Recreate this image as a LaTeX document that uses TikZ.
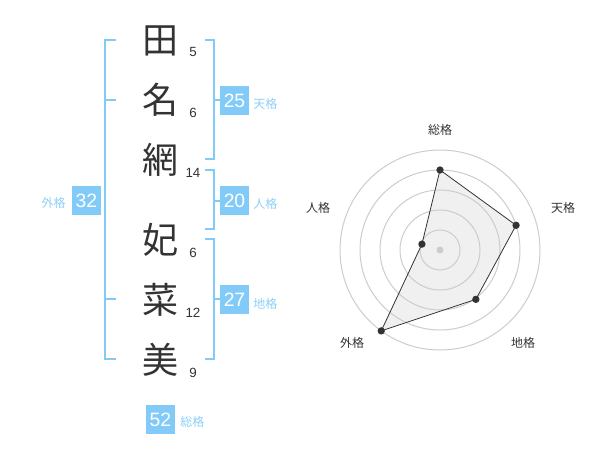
\documentclass[tikz,border=0pt]{standalone}
\usepackage{fontspec}
\usetikzlibrary{calc}
\setmainfont{Liberation Sans}
\newfontfamily\jp{Noto Sans CJK JP}
\definecolor{bluebox}{HTML}{82CBF9}
\definecolor{bluetxt}{HTML}{8CCFF7}
\definecolor{ink}{HTML}{333333}
\definecolor{ring}{HTML}{CCCCCC}
\definecolor{polyfill}{HTML}{F0F0F0}
\begin{document}
\begin{tikzpicture}[x=0.75pt,y=-0.75pt,
  kanji/.style={font=\jp\fontsize{27}{27}\selectfont,text=ink,inner sep=0pt},
  strokes/.style={font=\fontsize{10}{10}\selectfont,text=ink,inner sep=0pt},
  brk/.style={draw=bluebox,line width=1.5pt},
  scorebox/.style={fill=bluebox,text=white,font=\fontsize{14.5}{14.5}\selectfont,minimum width=21.75pt,minimum height=21.75pt,inner sep=0pt},
  kaku/.style={text=bluetxt,font=\jp\fontsize{9}{9}\selectfont,inner sep=0pt,anchor=west},
  axlabel/.style={text=ink,font=\jp\fontsize{9}{9}\selectfont,inner sep=0pt},
  dot/.style={circle,fill=ink,inner sep=0pt,minimum size=5.5pt}]
\useasboundingbox (0,0) rectangle (600,470);
% characters
\node[kanji] (c1) at (160,41) {田};
\node[kanji] (c2) at (160,100) {名};
\node[kanji] (c3) at (160,160) {網};
\node[kanji] (c4) at (160,240) {妃};
\node[kanji] (c5) at (160,300) {菜};
\node[kanji] (c6) at (160,360) {美};
% stroke counts
\node[strokes] (n1) at (193,52) {5};
\node[strokes] (n2) at (193,113) {6};
\node[strokes] (n3) at (193,173) {14};
\node[strokes] (n4) at (193,253) {6};
\node[strokes] (n5) at (193,313) {12};
\node[strokes] (n6) at (193,373) {9};
% left bracket (外格)
\draw[brk] (116,40) -- (105,40) -- (105,359) -- (116,359);
\draw[brk] (105,100) -- (116,100);
\draw[brk] (105,299) -- (116,299);
% right bracket 天格
\draw[brk] (205,40) -- (214,40) -- (214,159) -- (205,159);
\draw[brk] (214,100) -- (222,100);
% right bracket 人格
\draw[brk] (205,170) -- (214,170) -- (214,229) -- (205,229);
\draw[brk] (214,201) -- (222,201);
% right bracket 地格
\draw[brk] (205,239) -- (214,239) -- (214,359) -- (205,359);
\draw[brk] (214,299) -- (222,299);
% score boxes
\node[scorebox] (b25) at (234.5,100.5) {25};
\node[kaku] (k25) at (253,104) {天格};
\node[scorebox] (b20) at (234.5,201) {20};
\node[kaku] (k20) at (253,204) {人格};
\node[scorebox] (b27) at (234.5,300) {27};
\node[kaku] (k27) at (253,304) {地格};
\node[scorebox] (b32) at (86.5,200.5) {32};
\node[kaku,anchor=east] (k32) at (66,203) {外格};
\node[scorebox] (b52) at (160.5,419.5) {52};
\node[kaku] (k52) at (180,422) {総格};
% radar chart
\coordinate (ctr) at (440,250);
\coordinate (pS) at ($(ctr)+(-90:80)$);
\coordinate (pT) at ($(ctr)+(-18:80)$);
\coordinate (pC) at ($(ctr)+(54:61)$);
\coordinate (pG) at ($(ctr)+(126:100)$);
\coordinate (pJ) at ($(ctr)+(-162:19)$);
\fill[polyfill] (pS) -- (pT) -- (pC) -- (pG) -- (pJ) -- cycle;
\foreach \r in {20,40,60,80,100}
  \draw[ring,line width=0.75pt] (ctr) circle[radius=\r];
\fill[ring] (ctr) circle[radius=3.5];
\draw[draw=ink,line width=0.6pt] (pS) -- (pT) -- (pC) -- (pG) -- (pJ) -- cycle;
\foreach \p in {pS,pT,pC,pG,pJ}
  \node[dot] at (\p) {};
\node[axlabel] (lS) at (440,130) {総格};
\node[axlabel] (lT) at (563,208) {天格};
\node[axlabel] (lC) at (523,343) {地格};
\node[axlabel] (lG) at (352,343) {外格};
\node[axlabel] (lJ) at (318,208) {人格};
\end{tikzpicture}
\end{document}
